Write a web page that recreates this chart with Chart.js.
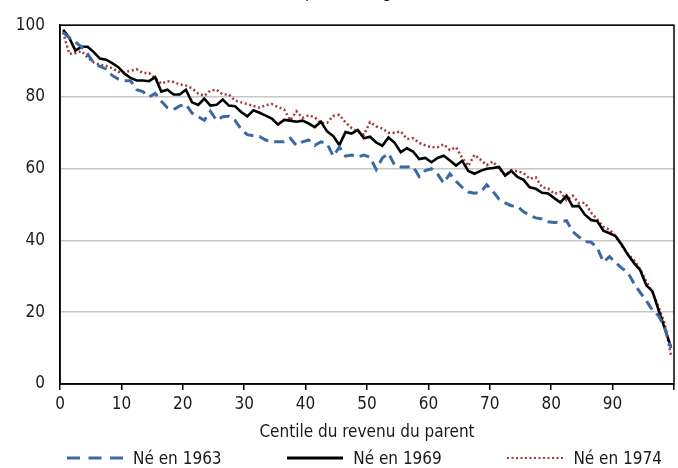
<!DOCTYPE html>
<html>
<head>
<meta charset="utf-8">
<script src="https://cdn.jsdelivr.net/npm/chart.js@4.4.0/dist/chart.umd.min.js"></script>
<style>
  html, body { margin: 0; padding: 0; background: #fff; }
  #wrap {
    position: relative; width: 678px; height: 468px; overflow: hidden;
    font-family: 'Liberation Sans Narrow', 'Arial Narrow', 'DejaVu Sans Condensed', sans-serif;
    color: #1a1a1a;
  }
  #chart { display: block; }
  #unit { position: absolute; top: -18px; left: 299px; font-size: 17px; line-height: 18px; white-space: nowrap; }
  #legend {
    position: absolute; left: 67px; width: 595px; top: 448px; height: 20px;
    display: flex; justify-content: space-between; align-items: center; font-size: 17px;
  }
  .item { display: flex; align-items: center; white-space: nowrap; }
  .item svg { margin-right: 10px; }
</style>
</head>
<body>
<div id="wrap">
  <canvas id="chart" width="678" height="468"></canvas>
  <div id="unit">(pourcentage)</div>
  <div id="legend"></div>
</div>
<script>
const FONT = "'Liberation Sans Narrow', 'Arial Narrow', 'DejaVu Sans Condensed', sans-serif";
const TEXT = '#1a1a1a';

// centiles 1..100 of parent income
const centiles = Array.from({ length: 100 }, (_, i) => i + 1);

const ne1963 = [
  98, 96.5, 95.3, 94, 92, 89.5, 88.5, 87.8, 86, 85,
  84.5, 84.5, 82, 81.5, 80, 81, 78.8, 77, 76.5, 77.5,
  78, 75.5, 74.5, 73.5, 76, 73.5, 74.5, 74.6, 73.5, 71,
  69.5, 69.2, 69, 68, 67.5, 67.5, 67.5, 68.5, 66.5, 67.5,
  68, 66.5, 67.5, 67, 63.5, 66, 63.5, 63.8, 63.3, 63.8,
  63.2, 59.8, 63, 64.3, 61, 60.5, 60.5, 60.6, 57.8, 59.5,
  60, 58.5, 56, 58.6, 56.5, 54.8, 53.5, 53.2, 53.4, 55.5,
  53.7, 51.5, 50.5, 49.7, 49.5, 48, 47, 46.3, 46, 45.2,
  45, 45.2, 45.5, 42.5, 41, 39.7, 39.5, 38, 34, 35.5,
  33.8, 32.3, 31, 28, 25.5, 23.2, 20.5, 19, 15.5, 10
];

const ne1969 = [
  98.7, 96.5, 92.9, 94, 94, 92.5, 90.7, 90.4, 89.4, 88.3,
  86.5, 85.3, 84.6, 84.6, 84.4, 85.5, 81.5, 82, 80.7, 80.7,
  82, 78.5, 77.8, 79.5, 77.6, 77.8, 79.3, 77.6, 77.4, 75.8,
  74.6, 76.3, 75.6, 74.8, 74, 72.3, 73.6, 73.4, 73.1, 73.4,
  72.6, 71.6, 73.1, 70.4, 69.1, 66.6, 70.2, 69.8, 70.8, 68.5,
  68.9, 67.3, 66.4, 68.7, 67.2, 64.6, 65.7, 64.8, 62.7, 63,
  61.8, 63, 63.6, 62.3, 60.9, 62.2, 59.4, 58.6, 59.4, 60,
  60.2, 60.5, 58.1, 59.4, 57.7, 56.9, 54.8, 54.4, 53.3, 53.1,
  51.8, 50.6, 52.5, 49.5, 49.6, 47.2, 45.7, 45.4, 42.7, 42,
  41.2, 38.8, 36, 33.7, 31.7, 27.5, 25.8, 20.5, 15.5, 10.3
];

const ne1974 = [
  98, 92, 92.2, 92.8, 91, 89.6, 89, 88.7, 88, 87,
  86.9, 87.3, 87.7, 86.7, 86.7, 85.2, 83.7, 84.4, 84.2, 83.5,
  83.2, 82.4, 81, 80.3, 81.8, 82, 80.7, 80.7, 79, 78.5,
  78, 77.5, 77, 77.7, 78, 77.2, 76.5, 73.5, 76, 74.2,
  74.9, 74.3, 72.7, 72.8, 74.7, 75, 72.9, 71.3, 70.3, 69.5,
  73, 71.8, 71.2, 70, 70, 70.4, 68.3, 68.5, 67.2, 66.5,
  66, 66, 66.8, 65.2, 66, 63, 60.8, 63.9, 62.5, 61,
  62, 60, 58.3, 59.6, 59.3, 58.8, 57.2, 57.6, 54.8, 54.5,
  53, 53.5, 51.2, 52.5, 50.4, 50.5, 47.8, 45.9, 43.8, 43,
  41.2, 38.5, 36.2, 34.5, 32, 28.5, 25.5, 21.5, 16.8, 8
];

const xTicks = [0, 10, 20, 30, 40, 50, 60, 70, 80, 90];
const yTicks = [0, 20, 40, 60, 80, 100];

// each centile is drawn in the middle of its slot (Excel "between tick marks")
const toPoints = vals => vals.map((v, i) => ({ x: centiles[i] - 0.5, y: v }));

const frame = {
  id: 'frame',
  beforeDatasetsDraw(chart) {
    const { ctx, chartArea: a } = chart;
    ctx.save();
    ctx.strokeStyle = '#000';
    ctx.lineWidth = 1.5;
    ctx.strokeRect(a.left, a.top, a.right - a.left, a.bottom - a.top);
    ctx.restore();
  }
};

const legendDash = [[13, 8.5], [], [2, 2.5]];

const chart = new Chart(document.getElementById('chart'), {
  type: 'line',
  data: {
    datasets: [
      { label: 'Né en 1963', data: toPoints(ne1963), borderColor: '#3b6aa3', borderWidth: 3, borderDash: [10, 6] },
      { label: 'Né en 1969', data: toPoints(ne1969), borderColor: '#000000', borderWidth: 2.6 },
      { label: 'Né en 1974', data: toPoints(ne1974), borderColor: '#a33a38', borderWidth: 2.5, borderDash: [2, 2.6] }
    ]
  },
  options: {
    responsive: false,
    animation: false,
    elements: { point: { radius: 0 }, line: { tension: 0 } },
    layout: { padding: { top: 22, right: 4, left: 0, bottom: 0 } },
    plugins: { legend: { display: false }, tooltip: { enabled: false } },
    scales: {
      x: {
        type: 'linear', min: 0, max: 100,
        afterBuildTicks: s => { s.ticks = xTicks.concat([100]).map(v => ({ value: v })); },
        afterFit: s => { s.height = 84; },
        ticks: {
          autoSkip: false, maxRotation: 0, padding: 4, color: TEXT,
          font: { family: FONT, size: 17 },
          callback: v => (xTicks.includes(v) ? v : '')
        },
        grid: { drawOnChartArea: false, drawTicks: true, tickLength: 6, color: '#000', lineWidth: 1.5 },
        border: { color: '#000', width: 1.5 },
        title: {
          display: true, text: 'Centile du revenu du parent', color: TEXT,
          font: { family: FONT, size: 17 }, padding: { top: 0, bottom: 25 }
        }
      },
      y: {
        min: 0, max: 100,
        afterBuildTicks: s => { s.ticks = yTicks.map(v => ({ value: v })); },
        afterFit: s => { s.width = 60; },
        ticks: { padding: 15, color: TEXT, font: { family: FONT, size: 17 } },
        grid: { drawTicks: false, color: '#c6c6c6', lineWidth: 1.5 },
        border: { color: '#000', width: 1.5 }
      }
    }
  },
  plugins: [frame]
});

// html legend built from the chart's datasets
const box = document.getElementById('legend');
chart.data.datasets.forEach((ds, i) => {
  const item = document.createElement('div');
  item.className = 'item';
  item.innerHTML =
    '<svg width="56" height="6"><line x1="0" y1="3" x2="56" y2="3" stroke="' + ds.borderColor +
    '" stroke-width="' + (i === 2 ? 2 : 3) + '" stroke-dasharray="' + legendDash[i].join(',') + '"/></svg>' +
    '<span>' + ds.label + '</span>';
  box.appendChild(item);
});
</script>
</body>
</html>
